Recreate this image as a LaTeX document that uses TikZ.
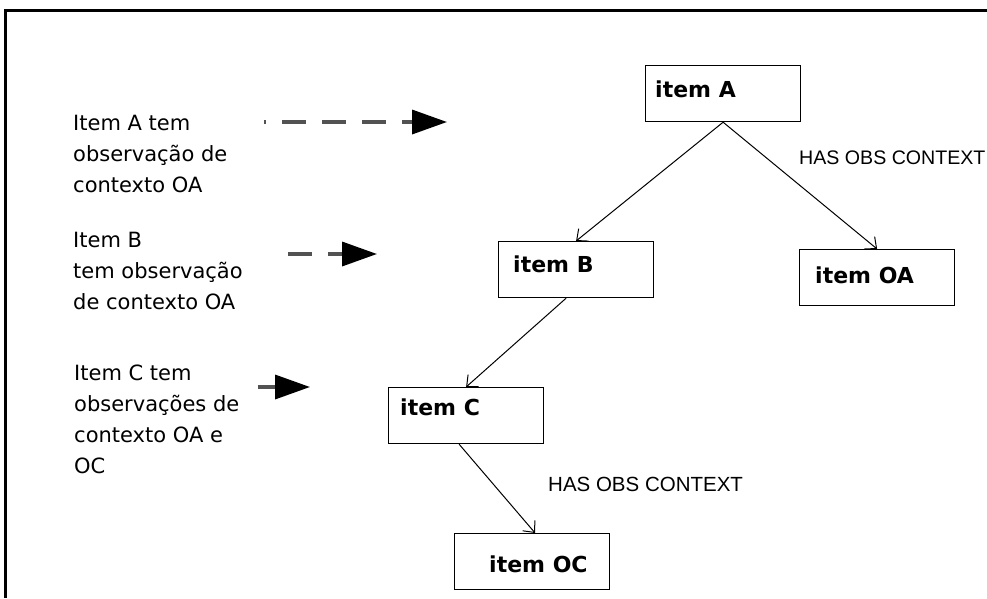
\documentclass[tikz,border=0pt]{standalone}
\usepackage{fontspec}
\setmainfont{DejaVu Sans}
\newfontfamily\edgefont{Liberation Sans}
\usetikzlibrary{arrows.meta,calc}

\begin{document}
\begin{tikzpicture}[x=1pt,y=-1pt,
  itembox/.style={draw, line width=1.2pt, minimum width=155pt, minimum height=56pt,
                  anchor=north west, inner sep=0pt},
  itemtext/.style={font=\fontsize{22}{26}\selectfont\bfseries, anchor=base west, inner sep=0pt},
  note/.style={font=\fontsize{21}{31}\selectfont, align=left, anchor=base west, inner sep=0pt},
  edgelabel/.style={font=\edgefont\fontsize{20.5}{24}\selectfont, anchor=base west, inner sep=0pt},
  link/.style={line width=1pt, -{Straight Barb[length=9pt,width=16pt]}},
  pointer/.style={line width=3.5pt, draw=black!68, dash pattern=on 24pt off 16pt,
                  -{Triangle[length=35pt,width=24pt,color=black]}}
]
\useasboundingbox (0,0) rectangle (987,598);

% outer frame (only top and left edges fall inside the page)
\draw[line width=3pt] (987,10) -- (5.5,10) -- (5.5,598);

% item boxes
\node[itembox] (A)  at (645,65)  {};
\node[itembox] (OA) at (799,249) {};
\node[itembox] (B)  at (498,241) {};
\node[itembox] (C)  at (388,387) {};
\node[itembox] (OC) at (454,533) {};

\node[itemtext] (tA)  at ($(A.north west)+(10,32)$)  {item A};
\node[itemtext] (tOA) at ($(OA.north west)+(16,34)$) {item OA};
\node[itemtext] (tB)  at ($(B.north west)+(15,31)$)  {item B};
\node[itemtext] (tC)  at ($(C.north west)+(12,28)$)  {item C};
\node[itemtext] (tOC) at ($(OC.north west)+(35,39)$) {item OC};

% relations
\draw[link] (A.south) -- (B.north);
\draw[link] (A.south) -- (OA.north);
\draw[link] ($(B.south)+(-10,0)$) -- (C.north);
\draw[link] ($(C.south)+(-7,0)$) -- ($(OC.north)+(3,0)$);

\node[edgelabel, font=\edgefont\fontsize{19.6}{24}\selectfont] (hasA) at (799,164) {HAS OBS CONTEXT};
\node[edgelabel] (hasC) at (548,491) {HAS OBS CONTEXT};

% explanatory notes (anchored at the baseline of their last line)
\node[note] (nA) at (73,192) {Item A tem\\observação de\\contexto OA};
\node[note] (nB) at (73,309) {Item B\\tem observação\\de contexto OA};
\node[note] (nC) at (74,473) {Item C tem\\observações de\\contexto OA e\\OC};

% pointers from notes towards the tree
\coordinate (pA0) at (264,122);
\coordinate (pA1) at (447,122);
\coordinate (pB0) at (288,254);
\coordinate (pB1) at (377,254);
\coordinate (pC0) at (258,387);
\coordinate (pC1) at (310,387);
\draw[pointer, dash phase=22pt] (pA0) -- (pA1);
\draw[pointer] (pB0) -- (pB1);
\draw[pointer] (pC0) -- (pC1);
\end{tikzpicture}
\end{document}
